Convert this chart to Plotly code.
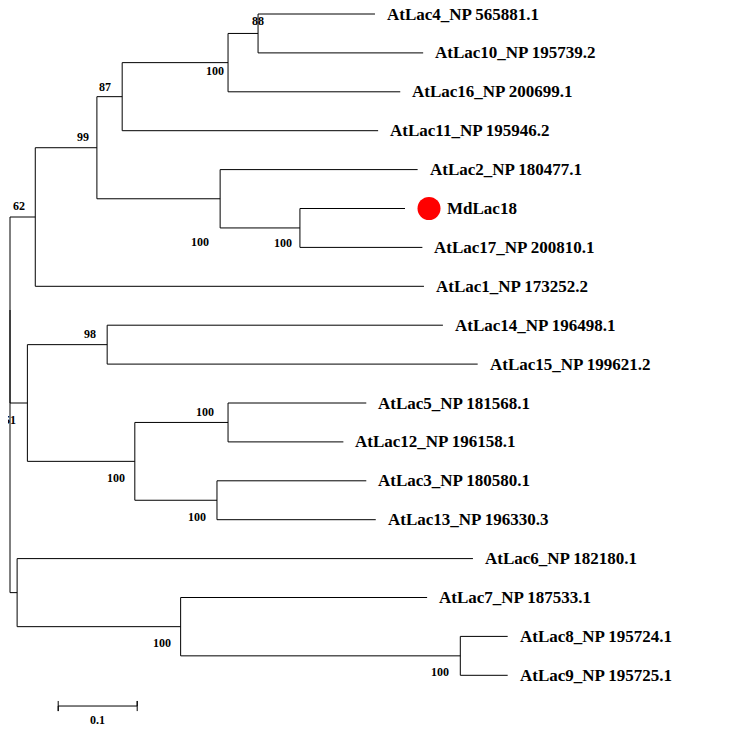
import plotly.graph_objects as go

# Leaves (top to bottom) and their branch tip depth (substitutions/site)
leaf_names = ["AtLac4_NP 565881.1", "AtLac10_NP 195739.2", "AtLac16_NP 200699.1",
              "AtLac11_NP 195946.2", "AtLac2_NP 180477.1", "MdLac18",
              "AtLac17_NP 200810.1", "AtLac1_NP 173252.2", "AtLac14_NP 196498.1",
              "AtLac15_NP 199621.2", "AtLac5_NP 181568.1", "AtLac12_NP 196158.1",
              "AtLac3_NP 180580.1", "AtLac13_NP 196330.3", "AtLac6_NP 182180.1",
              "AtLac7_NP 187533.1", "AtLac8_NP 195724.1", "AtLac9_NP 195725.1"]
leaf_depth = [0.462, 0.523, 0.494, 0.466, 0.516, 0.500, 0.522, 0.524, 0.548,
              0.592, 0.451, 0.422, 0.451, 0.463, 0.586, 0.528, 0.630, 0.630]

# Internal nodes: name, children, depth, bootstrap
node_names = ["n410", "n41016", "n11", "nMd17", "n2", "n99", "n62", "n98", "n512",
              "n313", "n513", "n27", "n89", "n7", "n6", "n51", "root"]
node_children = [[0, 1], ["n410", 2], ["n41016", 3], [5, 6], [4, "nMd17"], ["n11", "n2"],
                 ["n99", 7], [8, 9], [10, 11], [12, 13], ["n512", "n313"], ["n98", "n513"],
                 [16, 17], [15, "n89"], [14, "n7"], ["n62", "n27"], ["n51", "n6"]]
node_depth = [0.314, 0.276, 0.142, 0.367, 0.266, 0.110, 0.032, 0.123, 0.276,
              0.262, 0.158, 0.022, 0.570, 0.216, 0.009, 0.0, 0.0]
bootstrap = ["88", "100", "87", "100", "100", "99", "62", "98", "100",
             "100", "100", "", "100", "100", "", "51", ""]
# label offsets in pixels (style)
lab_dx = [0, -13, -17, -17, -20, -14, -16, -17, -23, -20, -19, 0, -20, -19, 0, 0, 0]
lab_dy = [12, -8, 10, -15, -43, 11, 11, 11, 10, -17, -17, 0, -16, -16, 0, -110, 0]

PX = 38.9
pos = {i: (leaf_depth[i], i) for i in range(len(leaf_names))}
for nm, ch, d in zip(node_names, node_children, node_depth):
    ys = [pos[c][1] for c in ch]
    pos[nm] = (d, sum(ys) / len(ys))

xs, ys = [], []
for nm, ch in zip(node_names, node_children):
    x0, y0 = pos[nm]
    cy = [pos[c][1] for c in ch]
    xs += [x0, x0, None]; ys += [min(cy), max(cy), None]
    for c in ch:
        xs += [x0, pos[c][0], None]; ys += [pos[c][1], pos[c][1], None]

fig = go.Figure()
fig.add_trace(go.Scatter(x=xs, y=ys, mode="lines", line=dict(color="black", width=1),
                         hoverinfo="skip", showlegend=False))
# scale bar
fig.add_trace(go.Scatter(x=[0.061, 0.061, 0.061, 0.161, 0.161, 0.161], y=[17.66, 17.92, 17.79, 17.79, 17.66, 17.92],
                         mode="lines", line=dict(color="black", width=1), showlegend=False))
fig.add_annotation(x=0.111, y=17.79, text="<b>0.1</b>", showarrow=False, yshift=-14,
                   font=dict(family="Liberation Serif", size=12, color="black"))

ann_font = dict(family="Liberation Serif", size=17, color="black")
for i, n in enumerate(leaf_names):
    x, y = pos[i]
    shift = 40 if n == "MdLac18" else 10
    fig.add_annotation(x=x, y=y, text="<b>" + n + "</b>", showarrow=False,
                       xanchor="left", xshift=shift, font=ann_font)
    if n == "MdLac18":
        fig.add_trace(go.Scatter(x=[x + 24 / 790], y=[y], mode="markers",
                                 marker=dict(color="red", size=23),
                                 showlegend=False, cliponaxis=False))
for nm, b, dx, dy in zip(node_names, bootstrap, lab_dx, lab_dy):
    if b:
        x, y = pos[nm]
        fig.add_annotation(x=x, y=y, text="<b>" + b + "</b>", showarrow=False,
                           xshift=dx, yshift=dy,
                           font=dict(family="Liberation Serif", size=12, color="black"))

fig.update_xaxes(visible=False, range=[-2 / 790, 742 / 790])
fig.update_yaxes(visible=False, range=[(754 - 6) / PX, -6 / PX])
fig.update_layout(width=744, height=754, margin=dict(l=0, r=0, t=0, b=0),
                  plot_bgcolor="white", paper_bgcolor="white")
fig.write_html("out.html")
